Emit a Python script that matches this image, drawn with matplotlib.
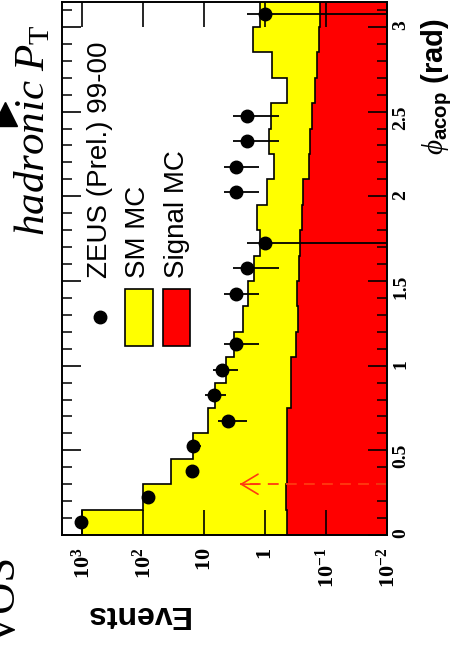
import numpy as np
import matplotlib
matplotlib.use("Agg")
import matplotlib.pyplot as plt
from matplotlib.patches import Rectangle
from matplotlib.lines import Line2D
from matplotlib.ticker import FixedLocator, FixedFormatter, MultipleLocator, NullFormatter

plt.rcParams['mathtext.fontset'] = 'custom'
plt.rcParams['mathtext.rm'] = 'Liberation Serif'
plt.rcParams['mathtext.it'] = 'Liberation Serif:italic'
plt.rcParams['mathtext.bf'] = 'Liberation Serif:bold'
plt.rcParams['mathtext.sf'] = 'Liberation Sans:bold'

# phi_acop bins (rad)
bin_edges = [0.0, 0.15, 0.3, 0.45, 0.6, 0.75, 0.9, 1.05, 1.2, 1.35, 1.5, 1.65,
             1.8, 1.95, 2.1, 2.25, 2.4, 2.55, 2.7, 2.85, 3.0, 3.15]

# SM MC (total) and signal MC, events per bin
sm_mc = [1000, 100, 35, 15, 8.5, 6.6, 4.4, 3.2, 2.27, 1.87, 1.5,
         1.2, 1.33, 0.92, 0.72, 0.85, 0.8, 0.44, 0.78, 1.55, 1.2]
signal_mc = [0.43, 0.45, 0.44, 0.43, 0.43, 0.37, 0.37, 0.31, 0.29, 0.30, 0.28,
             0.27, 0.25, 0.235, 0.19, 0.18, 0.17, 0.15, 0.14, 0.13, 0.125]

# ZEUS (Prel.) 99-00 data, counts per bin
data_counts = [1050, 82, 16, 15, 4, 7, 5, 3, 0, 3, 2,
               1, 0, 3, 3, 2, 2, 0, 0, 0, 1]

# cut marker
cut_phi = 0.3
arrow_tip = 2.6

event_ticks = [1e3, 1e2, 10, 1, 0.1, 0.01]
event_labels = [r'$\mathbf{10^{3}}$', r'$\mathbf{10^{2}}$', r'$\mathbf{10}$',
                r'$\mathbf{1}$', r'$\mathbf{10^{-1}}$', r'$\mathbf{10^{-2}}$']
phi_ticks = [0, 0.5, 1, 1.5, 2, 2.5, 3]
phi_labels = ['0', '0.5', '1', '1.5', '2', '2.5', '3']

W, H = 454, 645
def fx(px):
    return px / W
def fy(py):
    return 1 - py / H

fig = plt.figure(figsize=(W / 100, H / 100), dpi=100)
ax = fig.add_axes([fx(62), fy(535), fx(387) - fx(62), fy(1.5) - fy(535)])

# the plot is shown turned on its side: events run horizontally, phi vertically
ax.set_xscale('log')
ax.set_xlim(10 ** 3.33, 0.01)
ax.set_ylim(0, 3.15)

ax.stairs(sm_mc, bin_edges, orientation='horizontal', baseline=1e-3,
          fill=True, color='#ffff00', zorder=1)
ax.stairs(sm_mc, bin_edges, orientation='horizontal', baseline=None,
          color='black', lw=1.2, zorder=1.1)
ax.stairs(signal_mc, bin_edges, orientation='horizontal', baseline=1e-3,
          fill=True, color='#ff0000', zorder=1.2)
ax.stairs(signal_mc, bin_edges, orientation='horizontal', baseline=None,
          color='black', lw=1.2, zorder=1.3)

edges = np.array(bin_edges)
centers = (edges[:-1] + edges[1:]) / 2
counts = np.array(data_counts, dtype=float)
has = counts > 0
ax.errorbar(counts[has], centers[has], xerr=np.sqrt(counts[has]), fmt='o',
            color='black', ms=9, elinewidth=1.3, capsize=0, zorder=3)

# cut arrow
ax.plot([0.01, arrow_tip], [cut_phi, cut_phi], ls='--', color='#ff3a10',
        lw=1.3, dashes=(6, 4), zorder=2)
ax.annotate('', xy=(arrow_tip, cut_phi), xytext=(arrow_tip * 0.5, cut_phi),
            arrowprops=dict(arrowstyle='->,head_length=0.6,head_width=0.36',
                            mutation_scale=20, color='#ff3a10', lw=1.2,
                            shrinkA=0, shrinkB=0), zorder=2)

# axes styling
for s in ax.spines.values():
    s.set_linewidth(1.4)

ax.xaxis.set_major_locator(FixedLocator(event_ticks))
ax.xaxis.set_major_formatter(FixedFormatter(event_labels))
ax.xaxis.set_minor_formatter(NullFormatter())
ax.yaxis.set_major_locator(FixedLocator(phi_ticks))
ax.yaxis.set_major_formatter(FixedFormatter(phi_labels))
ax.yaxis.set_minor_locator(MultipleLocator(0.1))

ax.tick_params(axis='x', which='major', direction='in', length=18, width=1.2,
               top=True, bottom=True, labelrotation=90, pad=9, labelsize=16)
ax.tick_params(axis='x', which='minor', direction='in', length=9, width=1.1,
               top=True, bottom=True)
ax.tick_params(axis='y', which='major', direction='in', length=14, width=1.2,
               left=True, right=True, labelleft=False, labelright=True,
               labelrotation=90, pad=4, labelsize=14)
ax.tick_params(axis='y', which='minor', direction='in', length=7, width=1.1,
               left=True, right=True)
for lab in ax.get_yticklabels():
    lab.set_family('Liberation Serif')
    lab.set_weight('bold')

# axis titles
fig.text(fx(136), fy(614), 'Events', rotation=180, ha='center', va='center',
         fontsize=23, fontweight='bold', family='Liberation Sans')
fig.text(fx(437), fy(18), r'$\phi_{\mathsf{acop}}$ (rad)', rotation=90,
         ha='center', va='top', fontsize=21, fontweight='bold',
         family='Liberation Sans')

# legend
fig.add_artist(Line2D([fx(100)], [fy(317)], marker='o', ms=9, color='black'))
fig.add_artist(Rectangle((fx(125), fy(346)), fx(152.7) - fx(125), fy(289) - fy(346),
                         transform=fig.transFigure, facecolor='#ffff00',
                         edgecolor='black', lw=1.2))
fig.add_artist(Rectangle((fx(162.7), fy(346)), fx(190) - fx(162.7), fy(289) - fy(346),
                         transform=fig.transFigure, facecolor='#ff0000',
                         edgecolor='black', lw=1.2))
for xpos, txt in [(100, 'ZEUS (Prel.) 99-00'), (138, 'SM MC'), (177, 'Signal MC')]:
    fig.text(fx(xpos), fy(278), txt, rotation=90, ha='center', va='bottom',
             fontsize=20, family='Liberation Sans')

# surrounding slide text
fig.text(fx(11), fy(236), r'$hadronic\ P_{\mathrm{T}}$', rotation=90,
         ha='left', va='bottom', fontsize=31)
fig.add_artist(Line2D([fx(5)], [fy(114)], marker='^', ms=17, color='black'))
fig.text(fx(-16), fy(645), 'VOS', rotation=90, ha='left', va='bottom',
         fontsize=32, family='Liberation Serif')

fig.savefig('out.png', dpi=100)
